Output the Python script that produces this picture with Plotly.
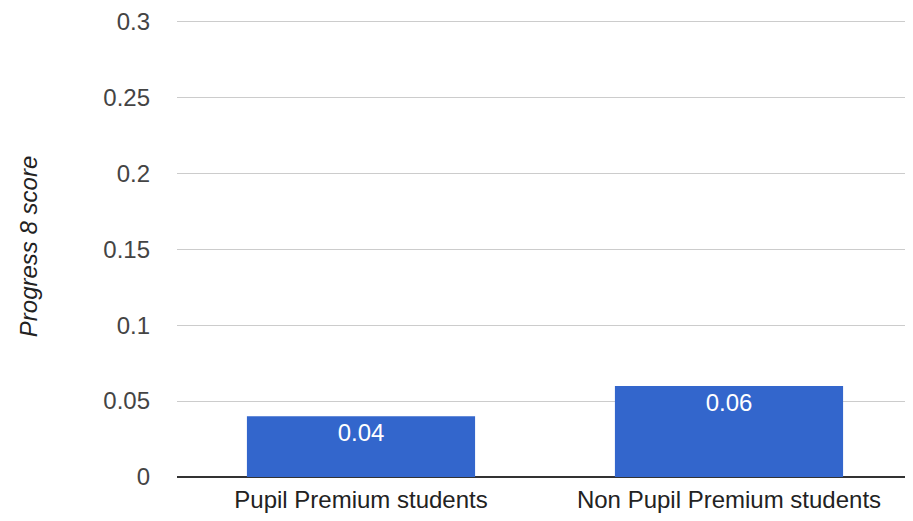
import plotly.graph_objects as go

categories = ["Pupil Premium students", "Non Pupil Premium students"]
values = [0.04, 0.06]
labels = ["0.04", "0.06"]
tick_vals = [0, 0.05, 0.1, 0.15, 0.2, 0.25, 0.3]
tick_text = ["0", "0.05", "0.1", "0.15", "0.2", "0.25", "0.3"]

FONT = "Liberation Sans, Arial, sans-serif"

fig = go.Figure(go.Bar(
    x=categories, y=values, text=labels,
    textposition="inside", insidetextanchor="end",
    textfont=dict(color="white", size=24, family=FONT),
    marker=dict(color="#3366cc", line=dict(width=0)),
    width=0.62,
    hoverinfo="skip",
))

fig.update_layout(
    width=905, height=513,
    margin=dict(l=169, r=0, t=12, b=44, pad=0),
    plot_bgcolor="white", paper_bgcolor="white",
    font=dict(family=FONT, size=24, color="#222"),
    showlegend=False,
    xaxis=dict(showgrid=False, showline=False, ticks="",
               tickfont=dict(color="#222", size=24, family=FONT),
               ticklabelstandoff=6),
    yaxis=dict(range=[0, 0.301], tickvals=tick_vals, ticktext=tick_text,
               showgrid=True, gridcolor="#cccccc", gridwidth=1,
               zeroline=True, zerolinecolor="#333333", zerolinewidth=1.5,
               tickfont=dict(color="#444", size=24, family=FONT), ticklabelstandoff=26,
               ticklabeloverflow="allow",
               showline=False),
    annotations=[dict(text="<i>Progress 8 score</i>", textangle=-90,
                      xref="paper", yref="paper", x=-0.2025, y=0.505,
                      xanchor="center", yanchor="middle", showarrow=False,
                      font=dict(size=24, color="#222", family=FONT))],
)

fig.write_html("out.html")
